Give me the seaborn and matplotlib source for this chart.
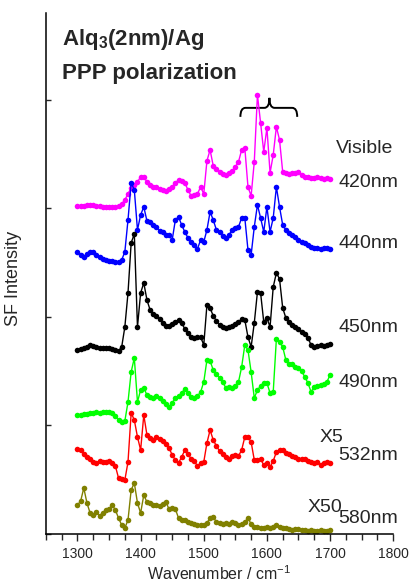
import numpy as np
import pandas as pd
import seaborn as sns
import matplotlib.pyplot as plt
from matplotlib.path import Path
from matplotlib.patches import PathPatch
from matplotlib.ticker import MultipleLocator, NullFormatter

# wavenumber grid (cm-1) shared by all spectra
wavenumber = np.arange(1300, 1701, 5)

# SF intensity (a.u., already offset as in the figure)
sf_420 = [328, 328, 328, 329, 329, 329, 328, 328, 327, 327,
          327, 327, 327, 328, 330, 334, 340, 346, 349, 352,
          357, 357, 352, 349, 347, 347, 345, 344, 343, 345,
          347, 351, 354, 353, 351, 344, 338, 339, 340, 347,
          340, 373, 384, 368, 365, 362, 360, 359, 361, 363,
          367, 372, 384, 386, 347, 338, 372, 439, 411, 382,
          406, 361, 379, 407, 394, 362, 361, 360, 361, 361,
          362, 359, 357, 357, 356, 356, 357, 356, 355, 356, 355]
sf_440 = [282, 279, 277, 280, 282, 282, 279, 277, 275, 274,
          273, 273, 272, 272, 274, 282, 314, 351, 344, 304,
          319, 327, 313, 312, 309, 307, 303, 302, 299, 299,
          294, 314, 317, 309, 302, 296, 292, 289, 285, 294,
          292, 304, 322, 314, 304, 302, 298, 296, 299, 304,
          306, 307, 316, 316, 284, 279, 307, 329, 316, 302,
          327, 302, 316, 347, 327, 309, 304, 301, 299, 297,
          294, 292, 291, 289, 287, 286, 286, 285, 286, 286, 285]
sf_450 = [184, 185, 186, 187, 189, 188, 187, 186, 186, 186,
          186, 185, 184, 183, 187, 207, 241, 291, 300, 207,
          241, 251, 234, 224, 220, 218, 215, 211, 208, 208,
          210, 212, 214, 211, 205, 201, 197, 196, 197, 197,
          189, 229, 226, 218, 213, 209, 207, 206, 207, 208,
          210, 212, 215, 214, 197, 187, 211, 242, 241, 212,
          216, 207, 247, 261, 255, 226, 216, 212, 209, 207,
          205, 202, 200, 196, 189, 187, 188, 189, 188, 189, 190]
sf_490 = [119, 119, 120, 120, 121, 121, 122, 121, 122, 122,
          122, 121, 118, 114, 112, 113, 132, 162, 176, 132,
          144, 146, 139, 137, 136, 138, 136, 133, 130, 127,
          131, 136, 138, 141, 145, 141, 137, 136, 138, 142,
          152, 174, 173, 164, 160, 156, 152, 146, 147, 146,
          148, 152, 167, 189, 184, 162, 136, 144, 148, 151,
          151, 141, 142, 195, 192, 187, 174, 170, 170, 167,
          166, 163, 157, 151, 142, 147, 148, 149, 150, 152, 159]
sf_532 = [85, 84, 80, 77, 75, 72, 71, 73, 72, 72,
          73, 71, 68, 56, 55, 54, 72, 121, 114, 97,
          84, 119, 99, 96, 94, 97, 95, 93, 90, 86,
          79, 74, 71, 77, 84, 80, 75, 73, 68, 71,
          72, 91, 104, 94, 88, 83, 80, 77, 75, 78,
          79, 78, 84, 97, 97, 92, 74, 74, 75, 69,
          71, 67, 73, 82, 84, 84, 81, 80, 78, 77,
          75, 75, 75, 73, 72, 71, 72, 69, 71, 72, 71]
sf_580 = [29, 33, 46, 31, 21, 19, 22, 18, 21, 24,
          25, 29, 24, 16, 9, 6, 14, 44, 51, 31,
          21, 39, 32, 31, 29, 29, 28, 30, 32, 25,
          26, 25, 16, 14, 14, 12, 11, 10, 9, 9,
          9, 11, 16, 17, 12, 11, 10, 11, 10, 12,
          11, 9, 10, 12, 16, 10, 7, 7, 6, 6,
          7, 6, 7, 9, 7, 6, 6, 5, 4, 5,
          5, 4, 4, 3, 4, 3, 3, 4, 3, 3, 4]

series_names = ["420nm", "440nm", "450nm", "490nm", "532nm", "580nm"]
series_colors = ["#ff00ff", "#0000ff", "#000000", "#00ff00", "#ff0000", "#808000"]

df = pd.DataFrame({
    "wavenumber": np.tile(wavenumber, 6),
    "sf": sf_420 + sf_440 + sf_450 + sf_490 + sf_532 + sf_580,
    "visible": np.repeat(series_names, len(wavenumber)),
})

sns.set_style("ticks")
plt.rcParams["font.family"] = ["Liberation Sans", "DejaVu Sans"]
plt.rcParams["mathtext.fontset"] = "custom"
plt.rcParams["mathtext.rm"] = "Liberation Sans"
plt.rcParams["mathtext.bf"] = "Liberation Sans:bold"

fig = plt.figure(figsize=(4.1, 5.83), dpi=100)
ax = fig.add_axes([0.112, 0.084, 0.847, 0.894])

sns.lineplot(data=df, x="wavenumber", y="sf", hue="visible",
             palette=dict(zip(series_names, series_colors)),
             marker="o", markersize=4.0, markeredgewidth=0,
             linewidth=1.0, estimator=None, sort=False, legend=False, ax=ax)

ax.set_xlim(1250, 1800)
ax.set_ylim(0, 521)
sns.despine(ax=ax)
for s in ["left", "bottom"]:
    ax.spines[s].set_linewidth(1.1)
    ax.spines[s].set_color("black")

ax.xaxis.set_major_locator(MultipleLocator(100))
ax.xaxis.set_minor_locator(MultipleLocator(25))
ax.set_xticks([1300, 1400, 1500, 1600, 1700, 1800])
ax.tick_params(axis="x", which="major", direction="out", length=5, width=1, labelsize=10, pad=4)
ax.tick_params(axis="x", which="minor", direction="out", length=4, width=1)
ax.yaxis.set_major_locator(MultipleLocator(108.5))
ax.yaxis.set_major_formatter(NullFormatter())
ax.tick_params(axis="y", which="major", direction="in", length=3.5, width=1)

ax.set_xlabel("Wavenumber / cm$^{-1}$", fontsize=11.5, labelpad=3)
ax.set_ylabel("SF Intensity", fontsize=13)
ax.yaxis.set_label_coords(-0.069, 0.49)

# title block
ax.text(1275, 489, r"Alq$_\mathbf{3}$(2nm)/Ag", fontsize=16, fontweight="bold", va="baseline")
ax.text(1275, 455, "PPP polarization", fontsize=16, fontweight="bold", va="baseline")

# labels at right of each spectrum
ax.text(1710, 381, "Visible", fontsize=14, va="baseline")
label_y = [347, 286, 202, 147, 74, 11]
for name, yb in zip(series_names, label_y):
    ax.text(1713, yb, name, fontsize=14, va="baseline")
ax.text(1684, 92, "X5", fontsize=14, va="baseline")
ax.text(1664, 22, "X50", fontsize=14, va="baseline")

# curly brace over the 1560-1650 region
x0, x1, xm = 1558, 1648, 1604
y_end, y_bar, y_tip = 417, 426, 436
verts = [(x0, y_end), (x0, y_bar), (x0 + 8, y_bar),
         (xm - 8, y_bar), (xm, y_bar), (xm, y_tip),
         (xm, y_bar), (xm + 8, y_bar),
         (x1 - 8, y_bar), (x1, y_bar), (x1, y_end)]
codes = [Path.MOVETO, Path.CURVE3, Path.CURVE3,
         Path.LINETO, Path.CURVE3, Path.CURVE3,
         Path.CURVE3, Path.CURVE3,
         Path.LINETO, Path.CURVE3, Path.CURVE3]
ax.add_patch(PathPatch(Path(verts, codes), fill=False, lw=1.4, color="black"))

fig.savefig("out.png", dpi=100)
